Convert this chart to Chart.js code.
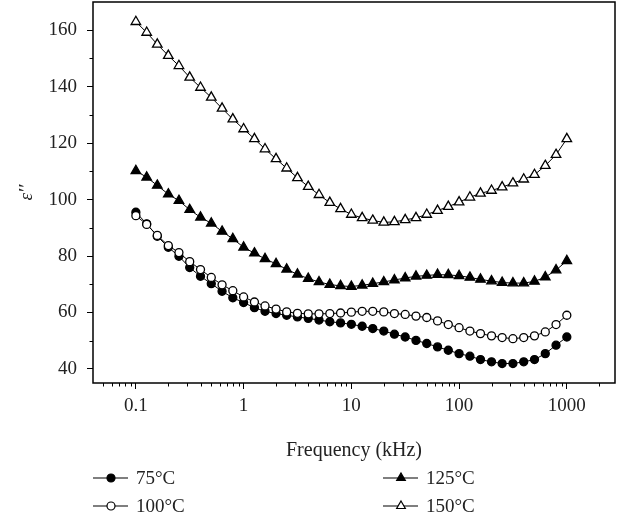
<!DOCTYPE html>
<html>
<head>
<meta charset="utf-8">
<script src="https://cdn.jsdelivr.net/npm/chart.js@4.4.1/dist/chart.umd.min.js"></script>
<style>
  html, body { margin: 0; padding: 0; background: #fff; }
</style>
</head>
<body>
<canvas id="chart" width="619" height="518"></canvas>
<script>
// frequency (kHz), 10 points per decade
const frequencies = [
  0.1, 0.126, 0.158, 0.2, 0.251, 0.316, 0.398, 0.501, 0.631, 0.794,
  1, 1.26, 1.58, 2, 2.51, 3.16, 3.98, 5.01, 6.31, 7.94,
  10, 12.6, 15.8, 20, 25.1, 31.6, 39.8, 50.1, 63.1, 79.4,
  100, 126, 158, 200, 251, 316, 398, 501, 631, 794, 1000
];

const eps75 = [
  95.5, 91.4, 87, 83.1, 79.9, 75.9, 72.8, 70.2, 67.5, 65.2,
  63.5, 61.7, 60.4, 59.6, 59, 58.4, 57.9, 57.3, 56.7, 56.3,
  55.8, 55.1, 54.3, 53.4, 52.3, 51.3, 50.1, 49, 47.8, 46.6,
  45.4, 44.5, 43.3, 42.5, 41.9, 41.9, 42.5, 43.3, 45.4, 48.4, 51.3
];
const eps100 = [
  94.3, 91.2, 87.3, 83.7, 81.2, 78, 75.2, 72.4, 69.8, 67.7,
  65.5, 63.7, 62.3, 61.2, 60.2, 59.7, 59.5, 59.5, 59.6, 59.8,
  60.1, 60.4, 60.4, 60.2, 59.6, 59.3, 58.7, 58.2, 57, 55.7,
  54.6, 53.4, 52.5, 51.7, 51.1, 50.7, 51.1, 51.7, 53.1, 55.7, 59
];
const eps125 = [
  110.2, 107.9, 105, 101.9, 99.6, 96.4, 93.7, 91.6, 88.7, 86.1,
  83.1, 81, 79, 77.2, 75.3, 73.5, 72, 70.8, 69.9, 69.4,
  69.2, 69.6, 70.2, 70.8, 71.5, 72.2, 72.8, 73.1, 73.4, 73.3,
  73.0, 72.4, 71.7, 71.1, 70.6, 70.4, 70.4, 71.0, 72.5, 75.0, 78.3
];
const eps150 = [
  163, 159.2, 155, 151, 147.4, 143.3, 139.7, 136.2, 132.3, 128.5,
  125, 121.5, 117.9, 114.4, 111.1, 107.7, 104.6, 101.7, 98.9, 96.7,
  94.7, 93.5, 92.6, 91.9, 92.1, 92.8, 93.5, 94.7, 96.1, 97.5,
  99.1, 100.8, 102.2, 103.2, 104.4, 105.8, 107.2, 108.8, 112, 115.9, 121.5
];

const xTicks = [0.1, 1, 10, 100, 1000];
const yTicks = [40, 60, 80, 100, 120, 140, 160];
const yMinorTicks = [50, 70, 90, 110, 130, 150];

const FONT = '"Liberation Serif", "DejaVu Serif", serif';

const seriesDefs = [
  { label: '75°C',  data: eps75,  style: 'circle',   fill: '#000', r: 4, order: 1 },
  { label: '100°C', data: eps100, style: 'circle',   fill: '#fff', r: 4, order: 0 },
  { label: '125°C', data: eps125, style: 'triangle', fill: '#000', r: 5.5, order: 3 },
  { label: '150°C', data: eps150, style: 'triangle', fill: '#fff', r: 5.5, order: 2 },
];

// minor ticks on the log axis (2..9 in each decade)
const xMinorTicks = [];
[0.01, 0.1, 1, 10, 100, 1000].forEach(d => {
  for (let k = 2; k <= 9; k++) xMinorTicks.push(d * k);
});

const frameAndLegend = {
  id: 'frameAndLegend',
  afterDraw(chart) {
    const { ctx, chartArea: a, scales: { x, y } } = chart;
    ctx.save();
    ctx.strokeStyle = '#000';
    ctx.lineWidth = 1.5;
    ctx.strokeRect(a.left, a.top, a.right - a.left, a.bottom - a.top);

    ctx.lineWidth = 1;
    ctx.beginPath();
    yMinorTicks.forEach(v => {
      const py = Math.round(y.getPixelForValue(v)) + 0.5;
      ctx.moveTo(a.left - 3.5, py);
      ctx.lineTo(a.left, py);
    });
    xMinorTicks.forEach(v => {
      const px = Math.round(x.getPixelForValue(v)) + 0.5;
      if (px <= a.left + 1 || px >= a.right - 1) return;
      ctx.moveTo(px, a.bottom);
      ctx.lineTo(px, a.bottom + 3.5);
    });
    ctx.stroke();

    // legend, two columns
    const cols = [93, 383];
    const rows = [478, 506];
    ctx.font = '19px ' + FONT;
    ctx.textBaseline = 'middle';
    ctx.textAlign = 'left';
    seriesDefs.forEach((s, i) => {
      const x0 = cols[Math.floor(i / 2)];
      const y0 = rows[i % 2];
      ctx.strokeStyle = '#000';
      ctx.lineWidth = 1.2;
      ctx.beginPath();
      ctx.moveTo(x0, y0);
      ctx.lineTo(x0 + 35, y0);
      ctx.stroke();
      ctx.fillStyle = s.fill;
      Chart.helpers.drawPoint(ctx, {
        pointStyle: s.style, radius: s.style === 'circle' ? 4 : 5, borderWidth: 1.2, rotation: 0
      }, x0 + 18, y0);
      ctx.fillStyle = '#222';
      ctx.fillText(s.label, x0 + 43, y0 + 1);
    });
    ctx.restore();
  }
};

new Chart(document.getElementById('chart').getContext('2d'), {
  type: 'scatter',
  data: {
    datasets: seriesDefs.map(s => ({
      label: s.label,
      data: frequencies.map((f, i) => ({ x: f, y: s.data[i] })),
      showLine: true,
      borderColor: '#000',
      borderWidth: 1,
      pointStyle: s.style,
      pointRadius: s.r,
      pointBackgroundColor: s.fill,
      pointBorderColor: '#000',
      pointBorderWidth: 1.3,
      order: s.order,
    }))
  },
  options: {
    responsive: false,
    animation: false,
    devicePixelRatio: 1,
    layout: { autoPadding: false, padding: { left: 0, top: 2, right: 4, bottom: 55 } },
    plugins: {
      legend: { display: false },
      tooltip: { enabled: false }
    },
    scales: {
      x: {
        type: 'logarithmic',
        min: 0.04,
        max: 2800,
        afterBuildTicks: s => { s.ticks = xTicks.map(v => ({ value: v })); },
        afterFit: s => { s.height = 80; s.paddingLeft = 0; s.paddingRight = 0; },
        grid: { drawOnChartArea: false, tickLength: 6, tickColor: '#000', tickWidth: 1 },
        border: { display: false },
        ticks: {
          color: '#222',
          font: { family: FONT, size: 19 },
          padding: 6,
          maxRotation: 0,
          callback: v => String(v)
        },
        title: {
          display: true,
          text: 'Frequency (kHz)',
          color: '#222',
          font: { family: FONT, size: 20 },
          padding: { top: 0, bottom: 0 }
        }
      },
      y: {
        min: 35,
        max: 170,
        afterBuildTicks: s => { s.ticks = yTicks.map(v => ({ value: v })); },
        afterFit: s => { s.width = 93; s.paddingTop = 0; s.paddingBottom = 0; },
        grid: { drawOnChartArea: false, tickLength: 6, tickColor: '#000', tickWidth: 1 },
        border: { display: false },
        ticks: {
          color: '#222',
          font: { family: FONT, size: 19 },
          padding: 10
        },
        title: {
          display: true,
          text: 'ε′′',
          color: '#222',
          font: { family: FONT, size: 19, style: 'italic' },
          padding: { top: 16, bottom: 0 }
        }
      }
    }
  },
  plugins: [frameAndLegend]
});
</script>
</body>
</html>
